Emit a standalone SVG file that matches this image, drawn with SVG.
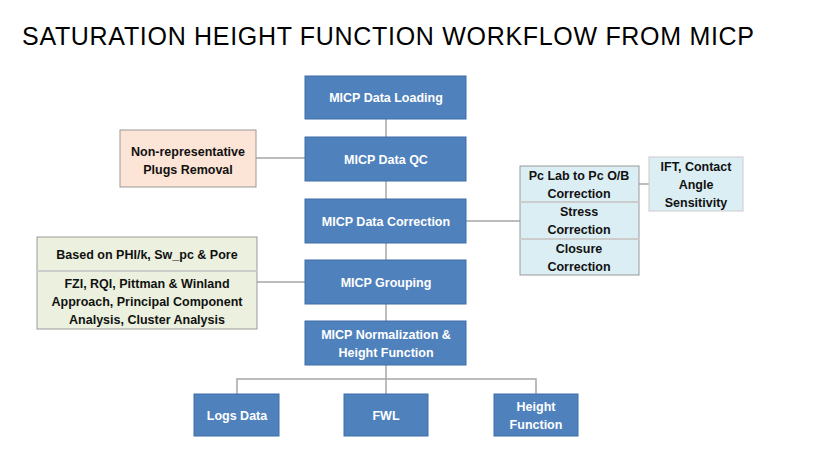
<svg xmlns="http://www.w3.org/2000/svg" width="824" height="466" viewBox="0 0 824 466">
<style>
.b{fill:#4f81bd;stroke:#3f6fa8;stroke-width:1}
.w{fill:#fff;font:bold 12.5px "Liberation Sans",Arial,sans-serif;text-anchor:middle}
.k{fill:#111;font:bold 12.5px "Liberation Sans",Arial,sans-serif;text-anchor:middle}
.c line,.c polyline{stroke:#a6a6a6;stroke-width:1.5;fill:none}
</style>
<rect width="824" height="466" fill="#fff"/>
<text x="22" y="45" font-family="Liberation Sans,Arial,sans-serif" font-size="25" fill="#000" textLength="732">SATURATION HEIGHT FUNCTION WORKFLOW FROM MICP</text>
<g class="c">
<line x1="386" y1="119" x2="386" y2="394"/>
<line x1="256" y1="158" x2="305" y2="158"/>
<line x1="257" y1="282" x2="305" y2="282"/>
<line x1="466" y1="221" x2="520" y2="221"/>
<line x1="639" y1="184" x2="649" y2="184"/>
<polyline points="237,394 237,379 536,379 536,394"/>
</g>
<g id="n1"><rect class="b" x="305" y="76" width="161" height="43"/><text class="w" x="386" y="102">MICP Data Loading</text></g>
<g id="n2"><rect class="b" x="305" y="137" width="161" height="44"/><text class="w" x="386" y="164">MICP Data QC</text></g>
<g id="n3"><rect class="b" x="305" y="199" width="161" height="44"/><text class="w" x="386" y="226">MICP Data Correction</text></g>
<g id="n4"><rect class="b" x="305" y="260" width="161" height="44"/><text class="w" x="386" y="287">MICP Grouping</text></g>
<g id="n5"><rect class="b" x="305" y="321" width="161" height="44"/><text class="w" x="386" y="339">MICP Normalization &amp;</text><text class="w" x="386" y="357">Height Function</text></g>
<g id="n6"><rect fill="#fce4d6" stroke="#999" x="120" y="130" width="136" height="57"/><text class="k" x="188" y="156">Non-representative</text><text class="k" x="188" y="174">Plugs Removal</text></g>
<g id="n7"><rect fill="#ebf1de" stroke="#999" x="37" y="237" width="220" height="92"/><line x1="37" y1="271" x2="257" y2="271" stroke="#ccc" stroke-width="2"/><text class="k" x="147" y="259">Based on PHI/k, Sw_pc &amp; Pore</text><text class="k" x="147" y="288">FZI, RQI, Pittman &amp; Winland</text><text class="k" x="147" y="306">Approach, Principal Component</text><text class="k" x="147" y="324">Analysis, Cluster Analysis</text></g>
<g id="n8"><rect fill="#dbeef4" stroke="#999" x="520" y="166" width="119" height="109"/><line x1="520" y1="202" x2="639" y2="202" stroke="#ccc" stroke-width="2"/><line x1="520" y1="239" x2="639" y2="239" stroke="#ccc" stroke-width="2"/><text class="k" x="579" y="180">Pc Lab to Pc O/B</text><text class="k" x="579" y="198">Correction</text><text class="k" x="579" y="216">Stress</text><text class="k" x="579" y="234">Correction</text><text class="k" x="579" y="253">Closure</text><text class="k" x="579" y="271">Correction</text></g>
<g id="n9"><rect fill="#dbeef4" stroke="#ccc" x="649" y="157" width="94" height="54"/><text class="k" x="696" y="171">IFT, Contact</text><text class="k" x="696" y="189">Angle</text><text class="k" x="696" y="207">Sensitivity</text></g>
<g id="n10"><rect class="b" x="194" y="394" width="85" height="42"/><text class="w" x="237" y="420">Logs Data</text></g>
<g id="n11"><rect class="b" x="344" y="394" width="84" height="42"/><text class="w" x="386" y="420">FWL</text></g>
<g id="n12"><rect class="b" x="494" y="394" width="84" height="42"/><text class="w" x="536" y="411">Height</text><text class="w" x="536" y="429">Function</text></g>
</svg>
